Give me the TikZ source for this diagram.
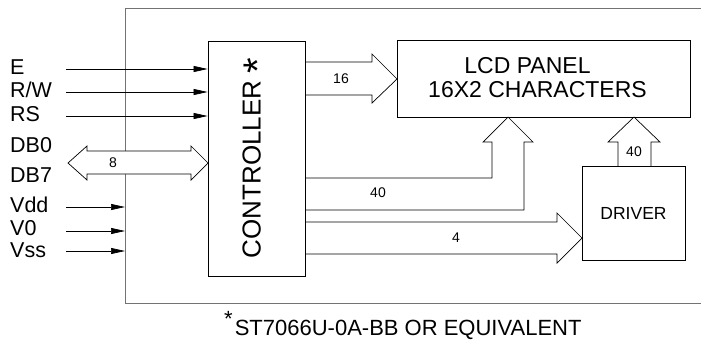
\documentclass[tikz,border=0pt]{standalone}
\usepackage{fontspec}
\setmainfont{Liberation Sans}
\usetikzlibrary{arrows.meta,calc}
\begin{document}
\begin{tikzpicture}[x=1pt,y=-1pt,
  box/.style={draw=black,line width=0.8pt,minimum width=#1,inner sep=0pt},
  sig/.style={line width=0.7pt,-{Triangle[length=14pt,width=6pt]}},
  bus/.style={draw=black,line width=0.7pt,fill=white,line join=miter},
  lbl/.style={font=\fontsize{21.5}{21.5}\selectfont,anchor=west,inner sep=0pt},
  num/.style={font=\fontsize{14}{14}\selectfont,inner sep=0pt},
  frame/.style={draw=black!55,line width=0.9pt}]
\useasboundingbox (0,0) rectangle (701,341);
% outer frame (open to the right)
\draw[frame] (701,8) -- (125,8) coordinate (frTL) -- (125,303) -- (701,303);
% DB bus (double arrow)
\draw[bus] (68,163) -- (87,146) -- (87,151) -- (191,151) -- (191,146) -- (208,163)
  -- (191,180) -- (191,174) -- (87,174) -- (87,180) -- cycle;
\node[num] (n8) at (113,163) {8};
% 16 bus to LCD
\draw[bus] (305,62) -- (372,62) -- (372,54) -- (397,79) -- (372,103) -- (372,95) -- (305,95);
\node[num] (n16) at (341,79) {16};
% 40 bus to LCD bottom
\draw[bus] (305,178) -- (492,178) -- (492,142) -- (483,142) -- (508,117) -- (533,142)
  -- (524,142) -- (524,210) -- (305,210);
\node[num] (n40a) at (378,193) {40};
% 4 bus to driver
\draw[bus] (305,222) -- (557,222) -- (557,213) -- (582,238) -- (557,263) -- (557,254) -- (305,254);
\node[num] (n4) at (456,238) {4};
% 40 bus driver to LCD
\draw[bus] (618,166) -- (618,142) -- (608,142) -- (634,117) -- (660,142) -- (651,142) -- (651,166);
\node[num] (n40b) at (634,152) {40};
% blocks
\node[box=97pt,minimum height=235pt] (ctrl) at (256.5,158.5) {};
\node[rotate=90,font=\fontsize{26}{26}\selectfont,inner sep=0pt] (ctrltxt) at (257,158)
  {CONTROLLER \raisebox{-11pt}{\fontsize{40}{40}\selectfont *}};
\node[box=293pt,minimum height=77pt] (lcd) at (543.5,78.5) {};
\node[font=\fontsize{23}{23}\selectfont,inner sep=0pt,anchor=base] (lcd1) at (527.5,73) {LCD PANEL};
\node[font=\fontsize{23}{23}\selectfont,inner sep=0pt,anchor=base] (lcd2) at (537.5,97) {16X2 CHARACTERS};
\node[box=103pt,minimum height=94pt,font=\fontsize{17.5}{17.5}\selectfont] (drv) at (633.5,213) {DRIVER};
% input signals
\foreach \n/\t/\y in {e/E/69,rw/R\slash W/92,rs/RS/116}{
  \node[lbl] (\n) at (10,\y-2) {\t};
  \coordinate (\n s) at (66,\y);
  \draw[sig] (\n s) -- (\n s -| ctrl.west);
}
\node[lbl] (vdd) at (10,205) {Vdd};
\node[lbl] (vo) at (10,228) {V0};
\node[lbl] (vss) at (10,250) {Vss};
\foreach \n/\y in {vdd/207,vo/231,vss/251}{
  \coordinate (\n s) at (66,\y);
  \draw[sig] (\n s) -- (\n s -| frTL);
}
\node[lbl] (db0) at (10,145) {DB0};
\node[lbl] (db7) at (10,175) {DB7};
% footnote
\node[font=\fontsize{22}{22}\selectfont,inner sep=0pt,anchor=base west] (foot) at (224,335)
  {\raisebox{9pt}{*}\hspace{2pt}ST7066U-0A-BB OR EQUIVALENT};
\end{tikzpicture}
\end{document}
